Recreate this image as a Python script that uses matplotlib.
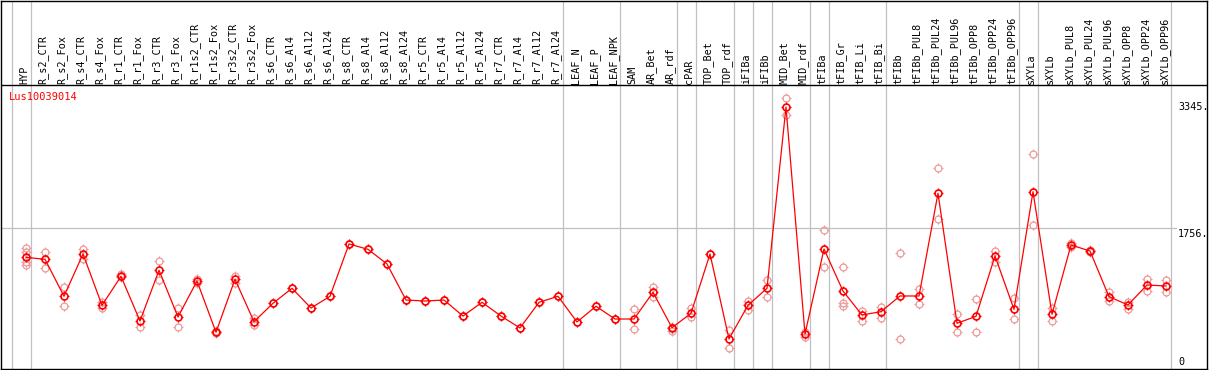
import matplotlib
matplotlib.use("Agg")
import matplotlib.pyplot as plt
from matplotlib.path import Path

categories = ["HYP", "R_s2_CTR", "R_s2_Fox", "R_s4_CTR", "R_s4_Fox", "R_r1_CTR", "R_r1_Fox",
              "R_r3_CTR", "R_r3_Fox", "R_r1s2_CTR", "R_r1s2_Fox", "R_r3s2_CTR", "R_r3s2_Fox",
              "R_s6_CTR", "R_s6_Al4", "R_s6_Al12", "R_s6_Al24", "R_s8_CTR", "R_s8_Al4",
              "R_s8_Al12", "R_s8_Al24", "R_r5_CTR", "R_r5_Al4", "R_r5_Al12", "R_r5_Al24",
              "R_r7_CTR", "R_r7_Al4", "R_r7_Al12", "R_r7_Al24", "LEAF_N", "LEAF_P", "LEAF_NPK",
              "SAM", "AR_Bet", "AR_rdf", "cPAR", "TOP_Bet", "TOP_rdf", "iFIBa", "iFIBb",
              "MID_Bet", "MID_rdf", "tFIBa", "tFIB_Gr", "tFIB_Li", "tFIB_Bi", "tFIBb",
              "tFIBb_PUL8", "tFIBb_PUL24", "tFIBb_PUL96", "tFIBb_OPP8", "tFIBb_OPP24",
              "tFIBb_OPP96", "sXYLa", "sXYLb", "sXYLb_PUL8", "sXYLb_PUL24", "sXYLb_PUL96",
              "sXYLb_OPP8", "sXYLb_OPP24", "sXYLb_OPP96"]

means = [1373, 1347, 862, 1417, 744, 1124, 538, 1203, 590, 1063, 390, 1085, 529,
         770, 967, 708, 862, 1548, 1478, 1286, 813, 800, 813, 603, 783, 603, 446, 783, 862,
         525, 731, 564, 564, 914, 450, 639, 1417, 302, 744, 967, 3345, 367, 1482, 931,
         617, 660, 866, 866, 2213, 508, 599, 1391, 691, 2234, 626, 1535, 1456, 857, 748,
         1010, 997]

replicates = [[1495, 1443, 1312, 1272], [1439, 1237], [980, 739], [1482, 1352], [791, 712],
              [1154, 1111], [617, 463], [1325, 1072], [704, 459], [1093, 1040], [411, 376],
              [1128, 1040], [573, 481],
              [770], [967], [708], [862], [1548], [1478], [1286], [813], [800], [813], [603],
              [783], [603], [446], [783], [862], [525], [731], [564],
              [690, 433], [988, 857], [463, 411], [704, 586], [1417], [420, 180], [804, 682],
              [1076, 857], [3459, 3240], [400, 332], [1732, 1242], [1242, 770, 739],
              [669, 538], [725, 573], [1434, 298], [954, 761], [2541, 1872], [626, 390],
              [822, 390], [1456, 1316], [836, 560], [2725, 1793], [704, 542], [1557, 1512],
              [1469, 1443], [922, 804], [791, 691], [1089, 931], [1076, 914]]

gene = "Lus10039014"
ytick_values = [3345, 1756, 0]
ytick_labels = ["3345.", "1756.", "0"]
group_ends = [-1, 0, 28, 31, 34, 35, 37, 38, 39, 41, 42, 45, 52, 53, 60]

# pixel geometry helpers
W, H = 1209, 370
PX_PER_CAT = 19.0
X0 = 26.0
Y0PIX = 362.0
UNITS_PER_PX = 3345.0 / (362.0 - 107.0)


def vy(ypix):
    return (Y0PIX - ypix) * UNITS_PER_PX


def ix(xpix):
    return (xpix - X0) / PX_PER_CAT


fig = plt.figure(figsize=(W / 100, H / 100), dpi=100)
ax = fig.add_axes([1 / W, 1 / H, 1206 / W, 368.5 / H])
ax.set_xlim(ix(1), ix(1207))
ax.set_ylim(vy(369), vy(0.5))
ax.set_xticks([])
ax.set_yticks([])
for s in ax.spines.values():
    s.set_color("black")
    s.set_linewidth(1.0)

mono = "DejaVu Sans Mono"
grey = "#c0c0c0"

# vertical group separators
for g in group_ends:
    ax.axvline(g + 0.25, color=grey, lw=0.9, zorder=1)

# header separator
ax.axhline(vy(85), color="black", lw=1.0, zorder=2)

# horizontal gridline at middle tick
ax.plot([ix(1), ix(1176)], [ytick_values[1], ytick_values[1]], color=grey, lw=0.9, zorder=1)

# category labels
for i, name in enumerate(categories):
    ax.text(i - 0.1, vy(83.5), name, rotation=90, ha="center", va="bottom",
            fontsize=7.3, family=mono, color="black")

# gene title
ax.text(ix(9), vy(97.5), gene, color="red", fontsize=7.5, family=mono, ha="left", va="center")

# y tick labels
vas = ["center", "top", "center"]
for v, lab, va in zip(ytick_values, ytick_labels, vas):
    yv = v if va != "top" else v - 1 * UNITS_PER_PX
    ax.text(ix(1178), yv, lab, fontsize=7.3, family=mono, ha="left", va=va, color="black")

tick_path = Path([(0, 0.7), (0, 1), (0, -0.7), (0, -1), (0.7, 0), (1, 0), (-0.7, 0), (-1, 0)],
                 [Path.MOVETO, Path.LINETO] * 4)

pink = "#ee9a9a"
for i, reps in enumerate(replicates):
    xs = [i] * len(reps)
    ax.plot(xs, reps, ls="none", marker="o", ms=5.0, mfc="none", mec=pink, mew=0.9, zorder=3)
    ax.plot(xs, reps, ls="none", marker=tick_path, ms=6.6, mec=pink, mew=0.8, zorder=3)

xs = list(range(len(means)))
ax.plot(xs, means, color="red", lw=0.9, zorder=4)
ax.plot(xs, means, ls="none", marker="o", ms=5.0, mfc="none", mec="red", mew=1.2, zorder=5)
ax.plot(xs, means, ls="none", marker=tick_path, ms=6.6, mec="red", mew=0.9, zorder=5)

fig.savefig("out.png", dpi=100)
